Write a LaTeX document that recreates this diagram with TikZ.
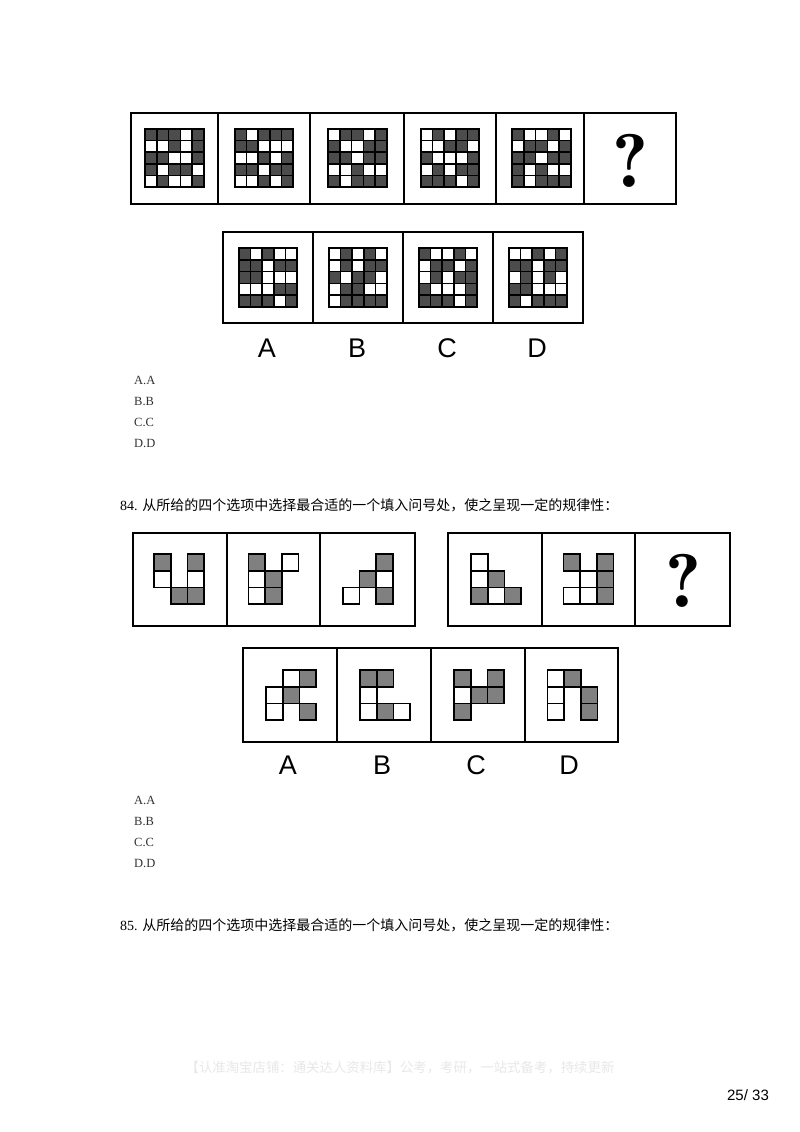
\documentclass[tikz,border=0pt]{standalone}
\usepackage{fontspec}
\setmainfont{Liberation Serif}
\newfontfamily\cjk{Noto Sans CJK SC}
\newfontfamily\arialf{Liberation Sans}
\newfontfamily\lmq[Extension=.otf]{lmromandemi10-regular}
\definecolor{dk}{HTML}{4C4C4C}
\definecolor{gy}{HTML}{808080}
\newcommand\BWgrid[3]{%
 \foreach \v [count=\i from 0] in {#3}{%
  \pgfmathtruncatemacro\myr{\i/5}%
  \pgfmathtruncatemacro\myc{\i-5*\myr}%
  \ifnum\v=1 \def\fc{dk}\else\def\fc{white}\fi
  \filldraw[bcell, fill=\fc] ({#1-29.25+\myc*11.7},{#2-29.25+\myr*11.7}) rectangle ++(11.7,11.7);
 }}
\newcommand\Sq[5]{\filldraw[scell, fill=#5] ({#1+#4*16.7},{#2+#3*16.7}) rectangle ++(16.7,16.7);}
\begin{document}
\begin{tikzpicture}[x=1pt,y=-1pt,
 panel/.style={draw=black, line width=1.8pt},
 bcell/.style={draw=black, line width=1.6pt},
 scell/.style={draw=black, line width=1.6pt},
 lab/.style={font=\arialf\fontsize{27}{27}\selectfont, inner sep=0pt},
 ans/.style={font=\fontsize{12.5}{14}\selectfont, anchor=west, inner sep=0pt, text=black!80},
 qtext/.style={font=\fontsize{14}{16}\selectfont, anchor=west, inner sep=0pt},
 qm/.style={font=\lmq\fontsize{76}{76}\selectfont, inner sep=0pt}]
\useasboundingbox[fill=white] (0,0) rectangle (800,1132);

% ---------- puzzle 83 ----------
\draw[panel] (131,113) rectangle (676,204);
\foreach \x in {218,310,404,496,584} \draw[panel] (\x,113) -- (\x,204);
\BWgrid{174.5}{158}{1,1,1,0,1, 0,0,1,0,1, 1,1,0,0,1, 1,0,1,1,0, 0,1,0,0,1}
\BWgrid{264}{158}{1,0,1,1,1, 1,1,0,0,0, 0,0,1,0,1, 1,1,0,1,1, 0,0,1,0,1}
\BWgrid{357.5}{158}{0,1,1,0,1, 1,0,0,1,1, 1,1,0,1,1, 0,0,1,0,0, 1,0,1,1,1}
\BWgrid{450}{158}{0,1,0,1,1, 0,0,1,1,0, 1,0,0,0,1, 0,1,0,1,1, 1,1,1,0,1}
\BWgrid{541.5}{158}{1,0,0,1,0, 0,1,1,0,1, 1,1,0,1,1, 1,0,1,0,0, 1,0,1,1,1}
\node[qm] (q1) at (630,161) {?};

\draw[panel] (223,232) rectangle (583,323);
\foreach \x in {313,403,493} \draw[panel] (\x,232) -- (\x,323);
\BWgrid{268}{277.5}{1,0,1,0,0, 1,1,0,1,1, 1,1,0,0,0, 0,0,0,1,1, 1,1,1,0,1}
\BWgrid{358}{277.5}{0,1,0,1,0, 0,1,0,1,1, 1,0,1,1,0, 0,1,1,0,0, 0,1,1,1,1}
\BWgrid{448}{277.5}{1,0,0,1,0, 0,1,1,0,1, 0,1,0,1,1, 1,0,0,0,1, 1,1,1,0,1}
\BWgrid{538}{277.5}{0,0,1,0,1, 1,1,0,1,1, 0,1,0,1,0, 1,1,0,0,0, 1,0,1,1,1}
\node[lab] (la1) at (267,348) {A};
\node[lab] (lb1) at (357,348) {B};
\node[lab] (lc1) at (447,348) {C};
\node[lab] (ld1) at (537,348) {D};

\node[ans] (a1) at (134,380) {A.A};
\node[ans] (b1) at (134,401) {B.B};
\node[ans] (c1) at (134,422) {C.C};
\node[ans] (d1) at (134,443) {D.D};

% ---------- puzzle 84 ----------
\node[qtext] (t84) at (120,505) {84. {\cjk 从所给的四个选项中选择最合适的一个填入问号处，使之呈现一定的规律性：}};

\draw[panel] (133,533) rectangle (415,626);
\foreach \x in {227,320} \draw[panel] (\x,533) -- (\x,626);
\draw[panel] (448,533) rectangle (730,626);
\foreach \x in {542,635} \draw[panel] (\x,533) -- (\x,626);

% panel 1
\Sq{154}{554}{0}{0}{gy}\Sq{154}{554}{0}{2}{gy}\Sq{154}{554}{1}{0}{white}
\Sq{154}{554}{1}{2}{white}\Sq{154}{554}{2}{1}{gy}\Sq{154}{554}{2}{2}{gy}
% panel 2
\Sq{248.3}{554}{0}{0}{gy}\Sq{248.3}{554}{0}{2}{white}\Sq{248.3}{554}{1}{0}{white}
\Sq{248.3}{554}{1}{1}{gy}\Sq{248.3}{554}{2}{0}{white}\Sq{248.3}{554}{2}{1}{gy}
% panel 3
\Sq{342.7}{554}{0}{2}{gy}\Sq{342.7}{554}{1}{1}{gy}\Sq{342.7}{554}{1}{2}{white}
\Sq{342.7}{554}{2}{0}{white}\Sq{342.7}{554}{2}{2}{gy}
% panel 4
\Sq{471}{554}{0}{0}{white}\Sq{471}{554}{1}{0}{white}\Sq{471}{554}{1}{1}{gy}
\Sq{471}{554}{2}{0}{gy}\Sq{471}{554}{2}{1}{white}\Sq{471}{554}{2}{2}{gy}
% panel 5
\Sq{563.3}{554}{0}{0}{gy}\Sq{563.3}{554}{0}{2}{gy}\Sq{563.3}{554}{1}{1}{white}
\Sq{563.3}{554}{1}{2}{gy}\Sq{563.3}{554}{2}{0}{white}\Sq{563.3}{554}{2}{1}{white}
\Sq{563.3}{554}{2}{2}{gy}
\node[qm] (q2) at (683,581) {?};

\draw[panel] (243,648) rectangle (618,742);
\foreach \x in {337,431,525} \draw[panel] (\x,648) -- (\x,742);
% option A
\Sq{266}{670}{0}{1}{white}\Sq{266}{670}{0}{2}{gy}\Sq{266}{670}{1}{0}{white}
\Sq{266}{670}{1}{1}{gy}\Sq{266}{670}{2}{0}{white}\Sq{266}{670}{2}{2}{gy}
% option B
\Sq{360}{670}{0}{0}{gy}\Sq{360}{670}{0}{1}{gy}\Sq{360}{670}{1}{0}{white}
\Sq{360}{670}{2}{0}{white}\Sq{360}{670}{2}{1}{gy}\Sq{360}{670}{2}{2}{white}
% option C
\Sq{454}{670}{0}{0}{gy}\Sq{454}{670}{0}{2}{gy}\Sq{454}{670}{1}{0}{white}
\Sq{454}{670}{1}{1}{gy}\Sq{454}{670}{1}{2}{gy}\Sq{454}{670}{2}{0}{gy}
% option D
\Sq{547.3}{670}{0}{0}{white}\Sq{547.3}{670}{0}{1}{gy}\Sq{547.3}{670}{1}{0}{white}
\Sq{547.3}{670}{1}{2}{gy}\Sq{547.3}{670}{2}{0}{white}\Sq{547.3}{670}{2}{2}{gy}

\node[lab] (la2) at (288,765) {A};
\node[lab] (lb2) at (382,765) {B};
\node[lab] (lc2) at (476,765) {C};
\node[lab] (ld2) at (569,765) {D};

\node[ans] (a2) at (134,800) {A.A};
\node[ans] (b2) at (134,821) {B.B};
\node[ans] (c2) at (134,842) {C.C};
\node[ans] (d2) at (134,863) {D.D};

% ---------- puzzle 85 ----------
\node[qtext] (t85) at (120,925) {85. {\cjk 从所给的四个选项中选择最合适的一个填入问号处，使之呈现一定的规律性：}};

% footer
\node[font=\cjk\fontsize{13.4}{15}\selectfont, text=black!9, inner sep=0pt] (wm) at (400,1068) {【认准淘宝店铺：通关达人资料库】公考，考研，一站式备考，持续更新};
\node[font=\arialf\fontsize{15}{16}\selectfont, inner sep=0pt] (pg) at (748,1095) {25/ 33};
\end{tikzpicture}
\end{document}
